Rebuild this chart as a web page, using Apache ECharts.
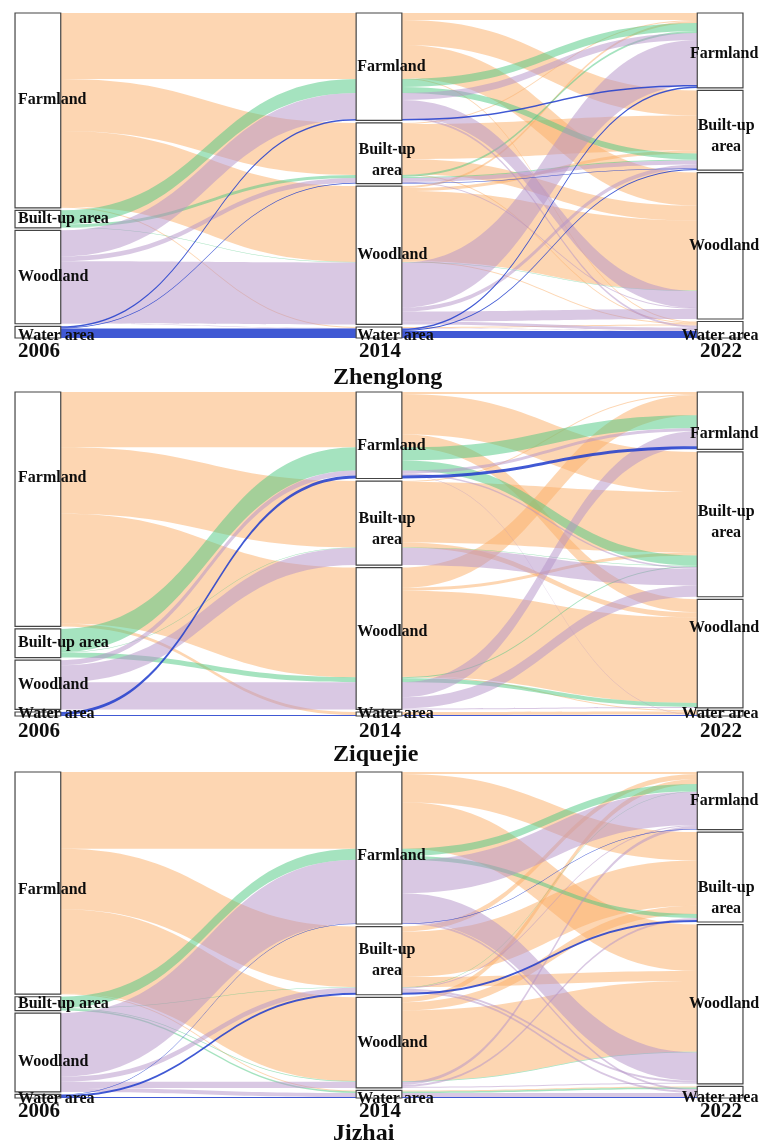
<!DOCTYPE html>
<html>
<head>
<meta charset="utf-8">
<title>Land-use transitions 2006–2014–2022</title>
<script src="https://cdn.jsdelivr.net/npm/echarts@6/dist/echarts.min.js"></script>
<style>
  html, body { margin: 0; padding: 0; background: #ffffff; }
  #chart { width: 762px; height: 1142px; }
</style>
</head>
<body>
<div id="chart"></div>
<script>
// ---------------------------------------------------------------------------
// Data
// ---------------------------------------------------------------------------
const YEARS = ['2006', '2014', '2022'];
const CLASS_CODES = ['F', 'B', 'W', 'A'];
const CLASS_NAMES = ['Farmland', 'Built-up area', 'Woodland', 'Water area'];
const TOWNS = ['Zhenglong', 'Ziquejie', 'Jizhai'];

// Each route: land class in 2006, in 2014, in 2022, and the area that followed it.
const zhenglongRoutes = [
  ['F', 'F', 'F', 7], ['F', 'F', 'B', 25], ['F', 'F', 'W', 33], ['F', 'F', 'A', 1],
  ['F', 'B', 'F', 1], ['F', 'B', 'B', 35], ['F', 'B', 'W', 15], ['F', 'B', 'A', 1],
  ['F', 'W', 'F', 2], ['F', 'W', 'B', 3], ['F', 'W', 'W', 70], ['F', 'W', 'A', 1],
  ['F', 'A', 'A', 1],
  ['B', 'F', 'F', 8], ['B', 'F', 'B', 6], ['B', 'B', 'F', 2], ['B', 'B', 'B', 1],
  ['B', 'W', 'W', 0.5],
  ['W', 'F', 'F', 7], ['W', 'F', 'W', 17], ['W', 'F', 'A', 2],
  ['W', 'B', 'B', 4], ['W', 'B', 'W', 1],
  ['W', 'W', 'F', 45], ['W', 'W', 'B', 4], ['W', 'W', 'W', 10], ['W', 'W', 'A', 3],
  ['W', 'A', 'A', 0.5],
  ['A', 'F', 'F', 1.5], ['A', 'B', 'B', 0.7], ['A', 'A', 'F', 1.5], ['A', 'A', 'B', 1],
  ['A', 'A', 'A', 7]
];

const ziquejieRoutes = [
  ['F', 'F', 'F', 2], ['F', 'F', 'B', 40], ['F', 'F', 'W', 13],
  ['F', 'B', 'F', 1], ['F', 'B', 'B', 60], ['F', 'B', 'W', 5],
  ['F', 'W', 'F', 20], ['F', 'W', 'B', 3], ['F', 'W', 'W', 85], ['F', 'W', 'A', 1],
  ['F', 'A', 'A', 3],
  ['B', 'F', 'F', 13], ['B', 'F', 'B', 10], ['B', 'B', 'B', 0.5],
  ['B', 'W', 'B', 1], ['B', 'W', 'W', 4],
  ['W', 'F', 'F', 3], ['W', 'F', 'B', 1.5], ['W', 'F', 'A', 0.5],
  ['W', 'B', 'B', 17],
  ['W', 'W', 'F', 15], ['W', 'W', 'B', 11], ['W', 'W', 'W', 1],
  ['A', 'F', 'F', 3], ['A', 'A', 'A', 1]
];

const jizhaiRoutes = [
  ['F', 'F', 'F', 2], ['F', 'F', 'B', 28], ['F', 'F', 'W', 46],
  ['F', 'B', 'F', 5], ['F', 'B', 'B', 45], ['F', 'B', 'W', 10],
  ['F', 'W', 'F', 5], ['F', 'W', 'B', 8], ['F', 'W', 'W', 70],
  ['F', 'A', 'A', 1],
  ['B', 'F', 'F', 7], ['B', 'F', 'B', 4], ['B', 'B', 'F', 0.5],
  ['B', 'W', 'W', 0.7], ['B', 'A', 'A', 1.5],
  ['W', 'F', 'F', 33], ['W', 'F', 'W', 28], ['W', 'F', 'A', 2],
  ['W', 'B', 'F', 1], ['W', 'B', 'W', 2], ['W', 'B', 'A', 2],
  ['W', 'W', 'F', 3], ['W', 'W', 'B', 2], ['W', 'W', 'W', 1],
  ['W', 'A', 'A', 4],
  ['A', 'F', 'F', 0.5], ['A', 'B', 'B', 2], ['A', 'A', 'A', 1]
];

// ---------------------------------------------------------------------------
// Styling and layout
// ---------------------------------------------------------------------------
const FILL = {
  F: 'rgba(252, 174, 102, 0.5)',
  B: 'rgba(76, 200, 128, 0.5)',
  W: 'rgba(180, 146, 200, 0.5)',
  A: 'rgba(30, 60, 205, 0.85)'
};
const LABEL_FONT = 'bold 16px "Liberation Serif", "Times New Roman", serif';
const YEAR_FONT = 'bold 21px "Liberation Serif", "Times New Roman", serif';
const TITLE_FONT = 'bold 24px "Liberation Serif", "Times New Roman", serif';
const HALF_W = 0.067;          // half width of a stratum box, in x units
const GAP_SHARE = 0.008;       // white gap between strata, share of the column total

// vertical nudges (px) of the stratum labels: [column][class]
const PANELS = [
  { routes: zhenglongRoutes, top: 13, bottom: 338, yearY: 352, titleY: 378,
    nudge: [[-11, 0, 0, 4], [0, 7, 0, 3], [3, 6, 0, 6]] },
  { routes: ziquejieRoutes, top: 392, bottom: 716, yearY: 732, titleY: 755,
    nudge: [[-31, 0, 0, 0], [11, 6, -7, 0], [13, -2, -26, 1]] },
  { routes: jizhaiRoutes, top: 772, bottom: 1098, yearY: 1112, titleY: 1134,
    nudge: [[7, 0, 9, 3], [8, 0, 0, 5], [0, 21, 0, 6]] }
];

// Stack strata and flows of one town.
function buildShapes(routes) {
  const ci = c => CLASS_CODES.indexOf(c);
  const size = [0, 1, 2].map(() => [0, 0, 0, 0]);
  routes.forEach(([a, b, c, v]) => {
    size[0][ci(a)] += v; size[1][ci(b)] += v; size[2][ci(c)] += v;
  });
  const sum = size[0].reduce((s, x) => s + x, 0);
  const gap = sum * GAP_SHARE;
  const total = sum + gap * 3;
  const tops = size.map(col => {
    let y = 0;
    return col.map(s => { const t = y; y += s + gap; return t; });
  });

  // stage 1: flows grouped by (2006, 2014)
  const s1 = {};
  routes.forEach(([a, b, , v]) => { s1[a + b] = (s1[a + b] || 0) + v; });
  // stage 2: flows grouped by (2006, 2014, 2022) so each keeps its 2006 colour
  const s2 = {};
  routes.forEach(([a, b, c, v]) => { s2[a + b + c] = (s2[a + b + c] || 0) + v; });

  const flows = [];
  const f1 = {};
  CLASS_CODES.forEach((a, ai) => {
    let y = tops[0][ai];
    CLASS_CODES.forEach(b => {
      const v = s1[a + b];
      if (v) { f1[a + b] = { kind: 'flow', col: 0, cls: a, v: v, y0: y }; y += v; }
    });
  });
  CLASS_CODES.forEach((b, bi) => {
    let y = tops[1][bi];
    CLASS_CODES.forEach(a => {
      const v = s1[a + b];
      if (v) { f1[a + b].y1 = y; y += v; }
    });
  });
  const f2 = {};
  CLASS_CODES.forEach((b, bi) => {
    let y = tops[1][bi];
    CLASS_CODES.forEach(a => CLASS_CODES.forEach(c => {
      const v = s2[a + b + c];
      if (v) { f2[a + b + c] = { kind: 'flow', col: 1, cls: a, v: v, y0: y }; y += v; }
    }));
  });
  CLASS_CODES.forEach((c, cIdx) => {
    let y = tops[2][cIdx];
    CLASS_CODES.forEach(a => CLASS_CODES.forEach(b => {
      const v = s2[a + b + c];
      if (v) { f2[a + b + c].y1 = y; y += v; }
    }));
  });
  Object.values(f1).forEach(f => flows.push(f));
  Object.values(f2).forEach(f => flows.push(f));
  flows.sort((p, q) => ci(p.cls) - ci(q.cls));

  const boxes = [], labels = [], years = [];
  for (let col = 0; col < 3; col++) {
    for (let k = 0; k < 4; k++) {
      if (size[col][k] <= 0) continue;
      boxes.push({ kind: 'box', col: col, y: tops[col][k], h: size[col][k] });
      labels.push({ kind: 'label', col: col, k: k, yc: tops[col][k] + size[col][k] / 2 });
    }
    years.push({ kind: 'year', col: col });
  }
  return { total: total, shapes: flows.concat(boxes, labels, years) };
}

function labelText(col, k) {
  const name = CLASS_NAMES[k];
  return (col > 0 && k === 1) ? name.replace(' ', '\n') : name;
}

function makeRenderer(shapes, panel) {
  return function (params, api) {
    const s = shapes[params.dataIndex];
    if (s.kind === 'flow') {
      const xa = s.col + HALF_W, xb = s.col + 1 - HALF_W;
      const p0 = api.coord([xa, s.y0]), p0b = api.coord([xa, s.y0 + s.v]);
      const p1 = api.coord([xb, s.y1]), p1b = api.coord([xb, s.y1 + s.v]);
      const xm = (p0[0] + p1[0]) / 2;
      const d = 'M' + p0[0] + ',' + p0[1] +
        ' C' + xm + ',' + p0[1] + ' ' + xm + ',' + p1[1] + ' ' + p1[0] + ',' + p1[1] +
        ' L' + p1b[0] + ',' + p1b[1] +
        ' C' + xm + ',' + p1b[1] + ' ' + xm + ',' + p0b[1] + ' ' + p0b[0] + ',' + p0b[1] + ' Z';
      return { type: 'path', shape: { pathData: d }, style: { fill: FILL[s.cls] } };
    }
    if (s.kind === 'box') {
      const a = api.coord([s.col - HALF_W, s.y]);
      const b = api.coord([s.col + HALF_W, s.y + s.h]);
      return {
        type: 'rect',
        shape: { x: a[0], y: a[1], width: b[0] - a[0], height: b[1] - a[1] },
        style: { fill: '#ffffff', stroke: '#444444', lineWidth: 1.2 }
      };
    }
    if (s.kind === 'label') {
      const left = api.coord([s.col - HALF_W, s.yc]);
      const mid = api.coord([s.col, s.yc]);
      const y = mid[1] + panel.nudge[s.col][s.k];
      let x, align;
      if (s.col === 0) { x = left[0] + 3; align = 'left'; }
      else if (s.col === 1) {
        if (s.k === 1) { x = mid[0] + 8; align = 'center'; }
        else { x = left[0] + 1; align = 'left'; }
      } else {
        x = mid[0] + (s.k === 3 ? 0 : (s.k === 1 ? 6 : 4)); align = 'center';
      }
      return {
        type: 'text', x: x, y: y,
        style: {
          text: labelText(s.col, s.k), font: LABEL_FONT, fill: '#0d0d0d',
          align: align, verticalAlign: 'middle', lineHeight: 21
        }
      };
    }
    // column year under each axis
    const c = api.coord([s.col, 0]);
    return {
      type: 'text', x: c[0] + 1, y: panel.yearY,
      style: { text: YEARS[s.col], font: YEAR_FONT, fill: '#0d0d0d', align: 'center', verticalAlign: 'middle' }
    };
  };
}

// ---------------------------------------------------------------------------
// Chart
// ---------------------------------------------------------------------------
const grids = [], xAxes = [], yAxes = [], series = [], graphics = [];
PANELS.forEach((panel, i) => {
  const built = buildShapes(panel.routes);
  grids.push({ left: 14, right: 18, top: panel.top, height: panel.bottom - panel.top });
  xAxes.push({ type: 'value', gridIndex: i, min: -0.07, max: 2.07, show: false });
  yAxes.push({ type: 'value', gridIndex: i, min: 0, max: built.total, inverse: true, show: false });
  series.push({
    type: 'custom',
    name: TOWNS[i],
    xAxisIndex: i,
    yAxisIndex: i,
    coordinateSystem: 'cartesian2d',
    silent: true,
    clip: false,
    encode: { x: 0, y: 1 },
    data: built.shapes.map(() => [0, 0]),
    renderItem: makeRenderer(built.shapes, panel)
  });
  graphics.push({
    type: 'text', left: 333, top: panel.titleY - 12,
    style: { text: TOWNS[i], font: TITLE_FONT, fill: '#0d0d0d' }
  });
});

const chart = echarts.init(document.getElementById('chart'), null, { renderer: 'canvas' });
chart.setOption({
  animation: false,
  backgroundColor: '#ffffff',
  grid: grids,
  xAxis: xAxes,
  yAxis: yAxes,
  series: series,
  graphic: graphics
});
</script>
</body>
</html>
